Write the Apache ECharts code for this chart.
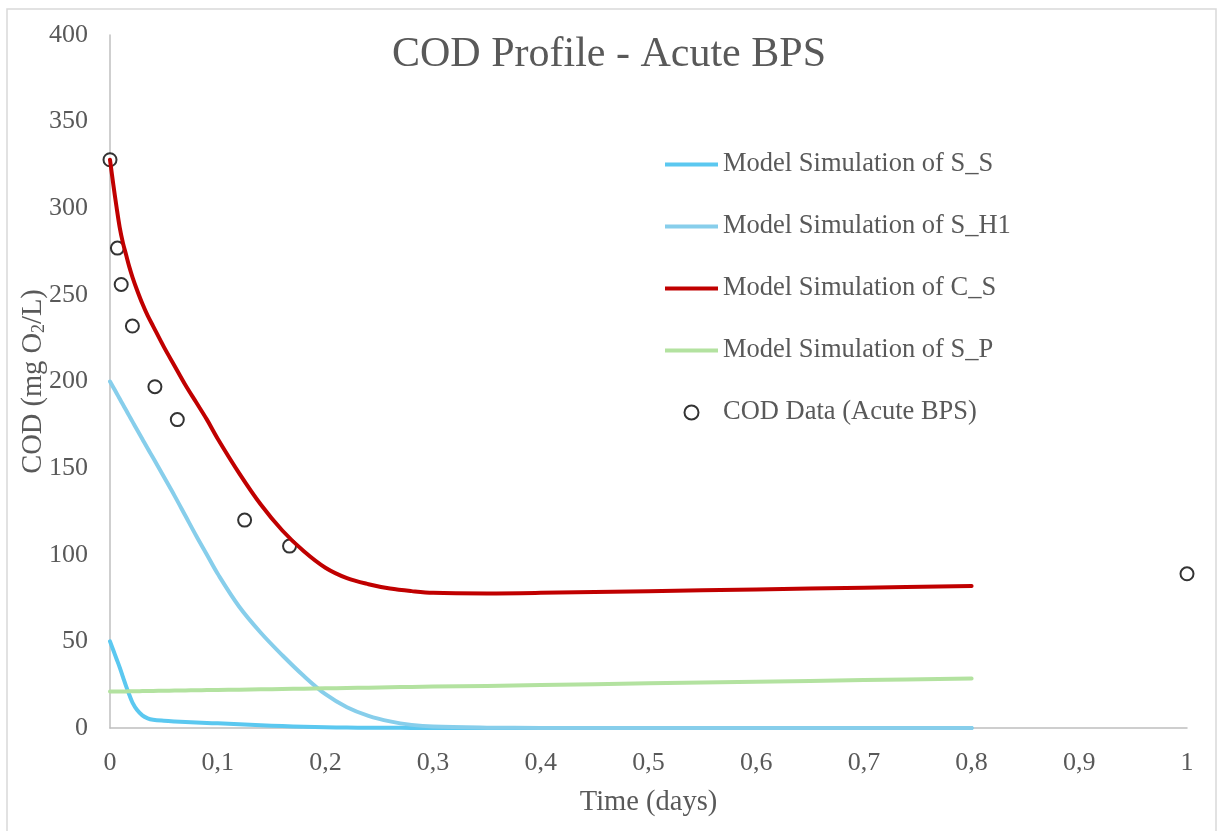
<!DOCTYPE html>
<html>
<head>
<meta charset="utf-8">
<script src="https://cdn.jsdelivr.net/npm/echarts@6/dist/echarts.min.js"></script>
<style>
  html, body { margin: 0; padding: 0; background: #ffffff; }
  #chart { width: 1218px; height: 831px; }
</style>
</head>
<body>
<div id="chart"></div>
<script>
// ---- Data ----
const chartTitle = 'COD Profile - Acute BPS';
const xAxisTitle = 'Time (days)';
const seriesNames = ['Model Simulation of S_S', 'Model Simulation of S_H1', 'Model Simulation of C_S', 'Model Simulation of S_P', 'COD Data (Acute BPS)'];

// shared simulation time grid (days)
const simTime = [0, 0.003, 0.006, 0.009, 0.012, 0.015, 0.018, 0.021, 0.025, 0.03, 0.035, 0.04, 0.05, 0.06, 0.07, 0.08, 0.09, 0.1,
                 0.12, 0.14, 0.16, 0.18, 0.2, 0.22, 0.24, 0.26, 0.28, 0.3, 0.35, 0.4, 0.5, 0.6, 0.7, 0.8];

const simSS  = [50, 45, 40, 35, 29.5, 24, 19, 14.5, 10.5, 7.3, 5.6, 4.8, 4.2, 3.8, 3.5, 3.2, 2.9, 2.7,
                2.1, 1.6, 1.1, 0.7, 0.4, 0.25, 0.15, 0.1, 0.05, 0, 0, 0, 0, 0, 0, 0];
const simSH1 = [200, 196.7, 193.4, 190, 186.7, 183.4, 180, 176.7, 172.3, 166.8, 161.3, 156, 145, 134, 122.5, 111, 100, 89,
                70, 55, 42, 30, 19.5, 12, 7, 3.8, 1.8, 0.8, 0.2, 0.05, 0, 0, 0, 0];
const simCS  = [328, 314, 301, 289, 280, 273, 266, 260, 253, 245, 238, 232, 220, 209, 198, 188, 178, 167,
                147, 129, 114, 102, 92.5, 86.5, 83, 80.5, 79, 78, 77.7, 78, 79, 80, 81, 82];
const simSP  = [21.0, 21.0, 21.1, 21.1, 21.1, 21.1, 21.2, 21.2, 21.2, 21.3, 21.3, 21.4, 21.5, 21.6, 21.7, 21.8, 21.9, 22.0,
                22.1, 22.3, 22.5, 22.7, 22.9, 23.1, 23.3, 23.5, 23.7, 23.9, 24.3, 24.8, 25.8, 26.7, 27.7, 28.6];

const dataTime = [0, 0.0069, 0.0104, 0.0208, 0.0417, 0.0625, 0.125, 0.1667, 1];
const dataCOD  = [328, 277, 256, 232, 197, 178, 120, 105, 89];

// ---- Build ----
const pairs = (xs, ys) => xs.map((x, i) => [x, ys[i]]);
const FONT = '"Liberation Serif", "Times New Roman", serif';
const TXT = '#595959';
const LINE_ICON = 'path://M0,0 L53,0 L53,4 L0,4 Z';

const chart = echarts.init(document.getElementById('chart'), null, { renderer: 'canvas' });

function lineSeries(name, ys, color) {
  return {
    name: name, type: 'line', data: pairs(simTime, ys),
    symbol: 'none', showSymbol: false, smooth: 0.35,
    lineStyle: { color: color, width: 4, cap: 'round', join: 'round' },
    itemStyle: { color: color },
    emphasis: { disabled: true }
  };
}

chart.setOption({
  animation: false,
  backgroundColor: '#ffffff',
  graphic: [{
    type: 'rect', shape: { x: 7, y: 9, width: 1209, height: 840 },
    style: { fill: 'none', stroke: '#D9D9D9', lineWidth: 1.5 }, silent: true
  }],
  title: {
    text: chartTitle, left: 'center', top: 29,
    textStyle: { fontFamily: FONT, fontSize: 42, fontWeight: 'normal', color: TXT }
  },
  legend: {
    orient: 'vertical', left: 660, top: 146,
    itemWidth: 53, itemHeight: 14, itemGap: 35, symbolKeepAspect: true,
    textStyle: { fontFamily: FONT, fontSize: 26.5, color: TXT },
    data: [
      { name: seriesNames[0], icon: LINE_ICON },
      { name: seriesNames[1], icon: LINE_ICON },
      { name: seriesNames[2], icon: LINE_ICON },
      { name: seriesNames[3], icon: LINE_ICON },
      { name: seriesNames[4], icon: 'circle' }
    ]
  },
  grid: { left: 110, right: 31, top: 35, bottom: 103, containLabel: false },
  xAxis: {
    type: 'value', min: 0, max: 1, interval: 0.1,
    name: xAxisTitle, nameLocation: 'middle', nameGap: 60,
    nameTextStyle: { fontFamily: FONT, fontSize: 28.5, color: TXT },
    axisLine: { show: true, lineStyle: { color: '#BFBFBF', width: 1.5 } },
    axisTick: { show: false },
    splitLine: { show: false },
    axisLabel: {
      fontFamily: FONT, fontSize: 26, color: TXT, margin: 22,
      formatter: v => String(Math.round(v * 10) / 10).replace('.', ',')
    }
  },
  yAxis: {
    type: 'value', min: 0, max: 400, interval: 50,
    name: 'COD (mg O{sub|2}/L)', nameLocation: 'middle', nameGap: 62, nameRotate: 90,
    nameMoveOverlap: false,
    nameTextStyle: {
      fontFamily: FONT, fontSize: 28.5, color: TXT,
      rich: { sub: { fontFamily: FONT, fontSize: 18, color: TXT, verticalAlign: 'bottom', padding: [8, 0, 0, 0] } }
    },
    axisLine: { show: true, lineStyle: { color: '#BFBFBF', width: 1.5 } },
    axisTick: { show: false },
    splitLine: { show: false },
    axisLabel: { fontFamily: FONT, fontSize: 26, color: TXT, margin: 22 }
  },
  series: [
    lineSeries(seriesNames[0], simSS, '#5BC8F0'),
    lineSeries(seriesNames[1], simSH1, '#87CEEB'),
    lineSeries(seriesNames[2], simCS, '#C00000'),
    lineSeries(seriesNames[3], simSP, '#B3E2A0'),
    {
      name: seriesNames[4], type: 'scatter', data: pairs(dataTime, dataCOD),
      symbol: 'circle', symbolSize: 13,
      itemStyle: { color: '#ffffff', borderColor: '#000000', borderWidth: 2 },
      emphasis: { disabled: true }
    }
  ]
});
</script>
</body>
</html>
